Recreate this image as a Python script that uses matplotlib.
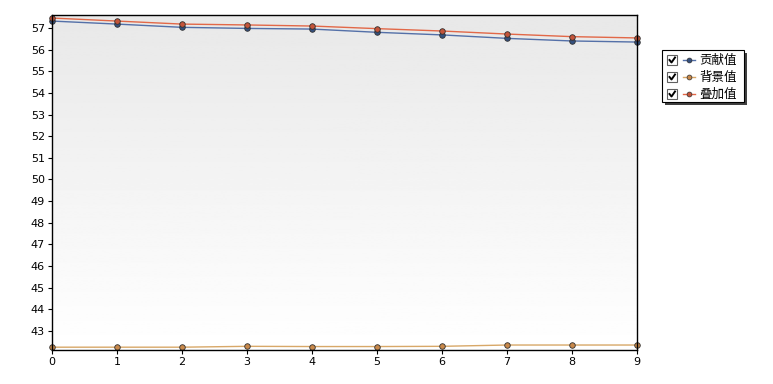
import numpy as np
import matplotlib
matplotlib.use("Agg")
import matplotlib.pyplot as plt
from matplotlib.patches import Rectangle
from matplotlib.lines import Line2D

# data
x_vals = [0, 1, 2, 3, 4, 5, 6, 7, 8, 9]
contrib = [57.32, 57.18, 57.03, 56.98, 56.95, 56.80, 56.68, 56.52, 56.40, 56.35]
background = [42.25, 42.25, 42.25, 42.29, 42.28, 42.28, 42.29, 42.35, 42.35, 42.35]
overlay = [57.46, 57.32, 57.18, 57.14, 57.09, 56.97, 56.86, 56.72, 56.60, 56.54]
series_names = ["贡献值", "背景值", "叠加值"]
y_ticks = list(range(43, 58))

W, H = 773, 384
fig = plt.figure(figsize=(W / 100, H / 100), dpi=100)
fig.patch.set_facecolor("white")

def px(x, y):
    return x / W, 1 - y / H

left, top, right, bottom = 52, 15, 637, 350
ax = fig.add_axes([left / W, 1 - bottom / H, (right - left) / W, (bottom - top) / H])

# grey-to-white gradient background
grad = np.linspace(0.91, 1.0, 256).reshape(-1, 1)
ax.imshow(grad, cmap="gray", vmin=0, vmax=1, aspect="auto",
          extent=[0, 1, 0, 1], transform=ax.transAxes, origin="upper", zorder=0)

line_cols = ["#5470a8", "#d8a868", "#e26848"]
face_cols = ["#34507e", "#c8884a", "#c4543a"]
data = [contrib, background, overlay]
for vals, lc, fc in zip(data, line_cols, face_cols):
    ax.plot(x_vals, vals, color=lc, lw=1.0, zorder=2, clip_on=False,
            marker="o", ms=4, mfc=fc, mec="#303030", mew=0.6)

ax.set_xlim(0, 9)
ax.set_ylim(42.12, 57.60)
ax.set_xticks(x_vals)
ax.set_yticks(y_ticks)
ax.tick_params(labelsize=8, length=3, width=0.8, colors="black", pad=2)
for s in ax.spines.values():
    s.set_linewidth(1.0)
    s.set_color("black")

# legend drawn by hand (checkbox style)
lx0, ly0, lx1, ly1 = 662, 50, 744, 102
fig.patches.append(Rectangle(px(lx0 + 3, ly1 + 3), (lx1 - lx0) / W, (ly1 - ly0) / H,
                             transform=fig.transFigure, facecolor="#404040",
                             edgecolor="none", zorder=5))
fig.patches.append(Rectangle(px(lx0, ly1), (lx1 - lx0) / W, (ly1 - ly0) / H,
                             transform=fig.transFigure, facecolor="white",
                             edgecolor="black", lw=0.8, zorder=6))
rows = [60, 77, 94]
for name, lc, fc, ry in zip(series_names, line_cols, face_cols, rows):
    fig.patches.append(Rectangle(px(667, ry + 5), 10 / W, 10 / H,
                                 transform=fig.transFigure, facecolor="white",
                                 edgecolor="#606060", lw=0.8, zorder=7))
    fig.lines.append(Line2D([669.5 / W, 671.5 / W, 675 / W],
                            [1 - (ry) / H, 1 - (ry + 2.5) / H, 1 - (ry - 2.5) / H],
                            transform=fig.transFigure, color="black", lw=1.4, zorder=8))
    fig.lines.append(Line2D([683 / W, 695 / W], [1 - ry / H, 1 - ry / H],
                            transform=fig.transFigure, color=lc, lw=1.0, zorder=8))
    fig.lines.append(Line2D([689 / W], [1 - ry / H], transform=fig.transFigure,
                            marker="o", ms=3.5, mfc=fc, mec="#303030", mew=0.5,
                            lw=0, zorder=9))
    fig.text(*px(699, ry), name, fontsize=9, va="center", ha="left",
             family=["Noto Sans CJK SC", "DejaVu Sans"], zorder=9)

fig.savefig("out.png", dpi=100)
